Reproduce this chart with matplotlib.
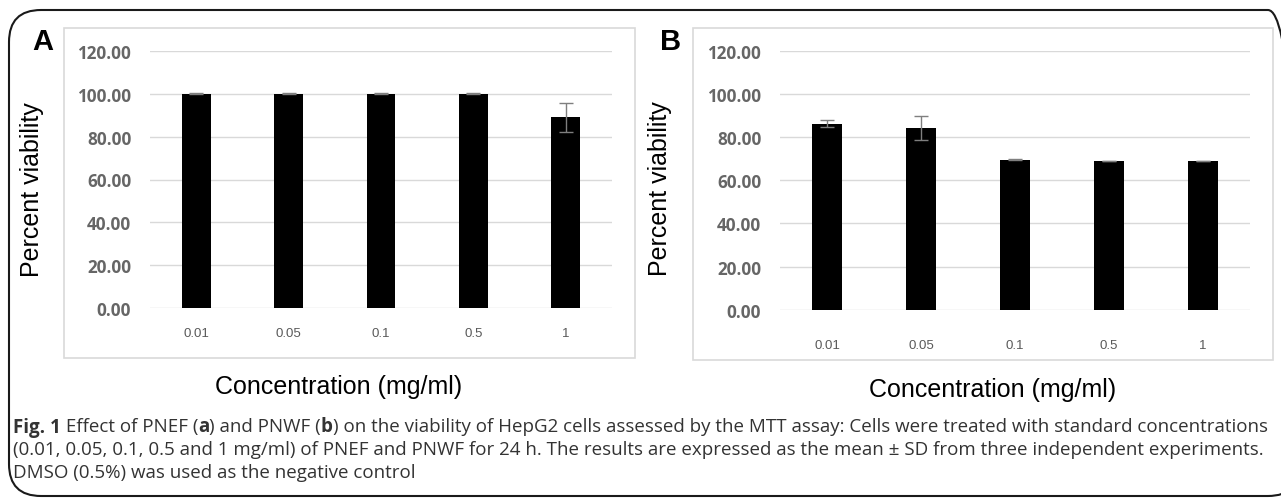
import matplotlib
matplotlib.use("Agg")
import matplotlib.pyplot as plt
from matplotlib.patches import Rectangle, FancyBboxPatch

# ---------------- data ----------------
categories = ["0.01", "0.05", "0.1", "0.5", "1"]
viability_A = [100.0, 100.0, 100.0, 100.0, 89.0]
sd_A = [0.2, 0.2, 0.2, 0.2, 6.6]
viability_B = [86.3, 84.2, 69.6, 69.0, 69.0]
sd_B = [1.6, 5.7, 0.2, 0.2, 0.2]
yticks = [0, 20, 40, 60, 80, 100, 120]
ytick_labels = ["0.00", "20.00", "40.00", "60.00", "80.00", "100.00", "120.00"]
ylabel = "Percent viability"
xlabel = "Concentration (mg/ml)"
caption_lines = [
    [("Fig. 1", "bold"), (" Effect of PNEF (", "normal"), ("a", "bold"), (") and PNWF (", "normal"),
     ("b", "bold"), (") on the viability of HepG2 cells assessed by the MTT assay: Cells were treated with standard concentrations", "normal")],
    [("(0.01, 0.05, 0.1, 0.5 and 1 mg/ml) of PNEF and PNWF for 24 h. The results are expressed as the mean \u00b1 SD from three independent experiments.", "normal")],
    [("DMSO (0.5%) was used as the negative control", "normal")],
]

W, H = 1281, 502
fig = plt.figure(figsize=(W / 100, H / 100), dpi=100)
fig.patch.set_facecolor("white")


def fx(x):
    return x / W


def fy(y):
    return 1 - y / H


def rect_axes(left, top, right, bottom):
    return fig.add_axes([fx(left), fy(bottom), (right - left) / W, (bottom - top) / H], zorder=3)


# outer rounded border
border = FancyBboxPatch((fx(9), fy(497)), fx(1300) - fx(9), fy(11) - fy(497),
                        boxstyle="round,pad=0,rounding_size=0.025",
                        transform=fig.transFigure, fill=False, edgecolor="#1a1a1a",
                        linewidth=1.5, mutation_aspect=W / H, zorder=1)
fig.patches.append(border)

panels = [
    dict(box=(64, 29, 635, 359), plot=(150, 52, 612, 309), vals=viability_A, sd=sd_A,
         letter="A", letter_xy=(43, 42), ylab_xy=(32, 190), xlab_xy=(339, 387), xpad=13.5),
    dict(box=(693, 29, 1273, 361), plot=(780, 52, 1250, 310.7), vals=viability_B, sd=sd_B,
         letter="B", letter_xy=(671, 42), ylab_xy=(660, 189), xlab_xy=(993, 390), xpad=21),
]

for p in panels:
    bl, bt, br, bb = p["box"]
    fig.patches.append(Rectangle((fx(bl), fy(bb)), (br - bl) / W, (bb - bt) / H,
                                 transform=fig.transFigure, facecolor="white",
                                 edgecolor="#d9d9d9", linewidth=1.2, zorder=1))
    l, t, r, b = p["plot"]
    ax = rect_axes(l, t, r, b)
    ax.patch.set_visible(False)
    x = list(range(len(categories)))
    ax.bar(x, p["vals"], width=0.31, color="black", zorder=3)
    ax.errorbar(x, p["vals"], yerr=p["sd"], fmt="none", ecolor="#7f7f7f",
                elinewidth=1.0, capsize=5, capthick=1.0, zorder=4)
    ax.set_xlim(-0.5, len(categories) - 0.5)
    ax.set_ylim(0, 120)
    ax.set_yticks(yticks)
    ax.set_yticklabels(ytick_labels, fontfamily="Open Sans", fontweight="bold",
                       fontsize=12.3, color="#666666")
    ax.set_xticks(x)
    ax.set_xticklabels(categories, fontfamily="Liberation Sans", fontsize=9.5,
                       color="#595959")
    ax.tick_params(axis="y", length=0, pad=13.5)
    ax.tick_params(axis="x", length=0, pad=p["xpad"])
    for s in ax.spines.values():
        s.set_visible(False)
    ax.grid(axis="y", color="#d9d9d9", linewidth=1.0, zorder=0)
    ax.set_axisbelow(True)

    fig.text(fx(p["letter_xy"][0]), fy(p["letter_xy"][1]), p["letter"],
             fontfamily="Liberation Sans", fontweight="bold", fontsize=21,
             ha="center", va="center")
    fig.text(fx(p["ylab_xy"][0]), fy(p["ylab_xy"][1]), ylabel,
             fontfamily="Liberation Sans", fontsize=18, rotation=90,
             ha="center", va="center")
    fig.text(fx(p["xlab_xy"][0]), fy(p["xlab_xy"][1]), xlabel,
             fontfamily="Liberation Sans", fontsize=18, ha="center", va="center")

# caption, drawn as runs of text; font size fitted so line 1 spans the target width
renderer = fig.canvas.get_renderer()
cap_x0 = 13
cap_x1 = 1271
cap_ys = [425, 448, 471]


def draw_line(line, y, fs, draw=True):
    xcur = cap_x0
    arts = []
    for txt, wt in line:
        t = fig.text(fx(xcur), fy(y), txt, fontfamily="Open Sans", fontweight=wt,
                     fontsize=fs, color="#333333", ha="left", va="center_baseline")
        bb = t.get_window_extent(renderer=renderer)
        xcur += bb.width
        arts.append(t)
    if not draw:
        for a in arts:
            a.remove()
    return xcur - cap_x0


w_test = draw_line(caption_lines[0], cap_ys[0], 10.0, draw=False)
cap_fs = 10.0 * (cap_x1 - cap_x0) / w_test
for line, y in zip(caption_lines, cap_ys):
    draw_line(line, y, cap_fs)

fig.savefig("out.png", dpi=100, facecolor="white")
